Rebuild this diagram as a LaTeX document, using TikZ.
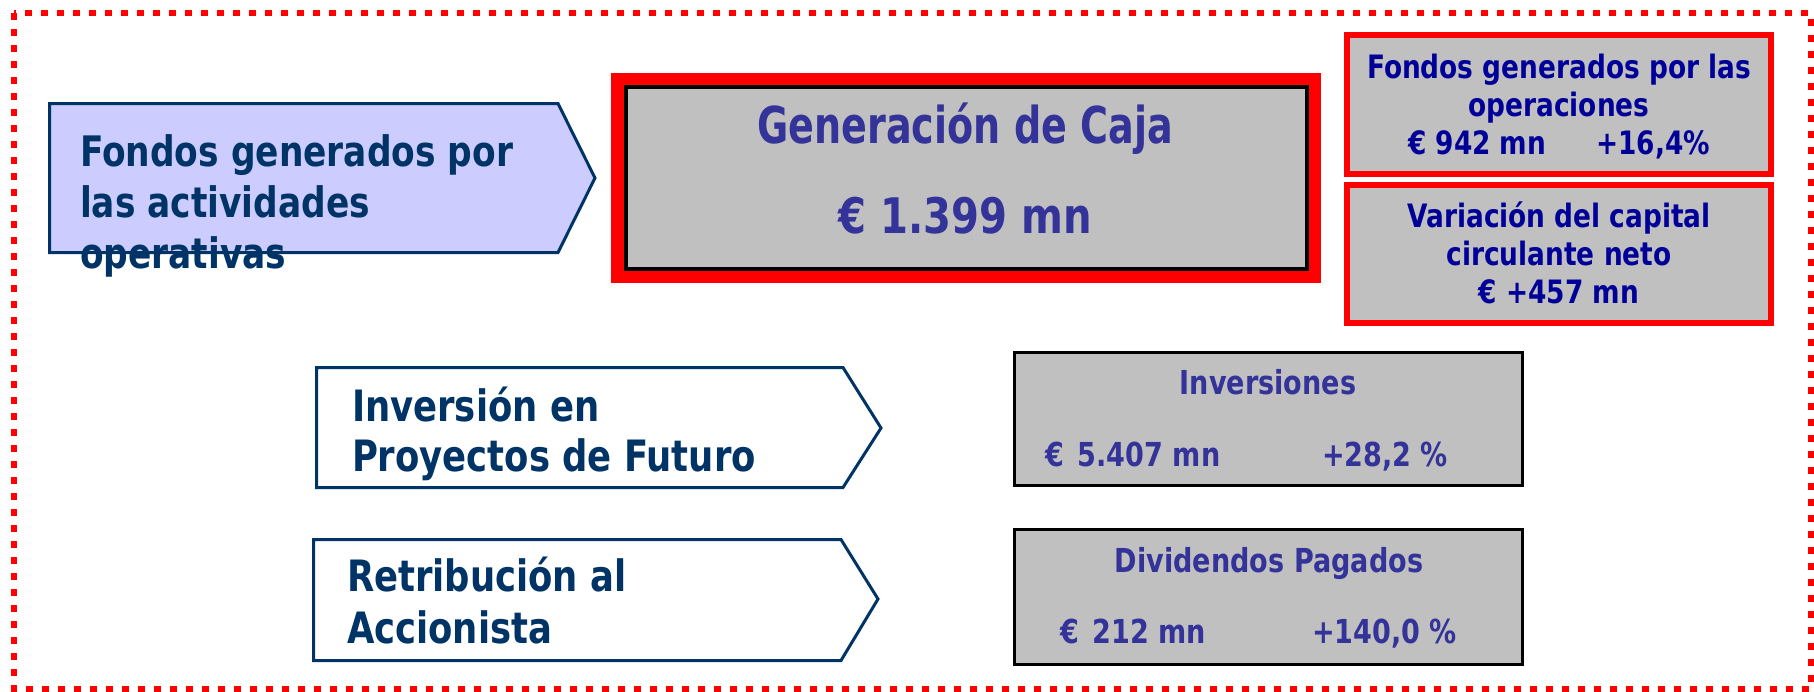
\documentclass[tikz,border=0pt]{standalone}
\usepackage{fontspec}
\newfontfamily\tahfont[FakeStretch=0.82]{DejaVu Sans}
\newfontfamily\tahnarrow[FakeStretch=0.75]{DejaVu Sans}
\usetikzlibrary{positioning}
\definecolor{frameRed}{RGB}{255,0,0}
\definecolor{navyText}{RGB}{0,51,102}
\definecolor{lilac}{RGB}{204,204,255}
\definecolor{boxGrey}{RGB}{192,192,192}
\definecolor{cashBlue}{RGB}{51,51,153}
\definecolor{fundBlue}{RGB}{0,0,153}

\begin{document}
\begin{tikzpicture}[x=0.5pt, y=-0.5pt,
  every node/.style = {inner sep=0pt, outer sep=0pt},
  pointer/.style = {draw=navyText, line width=1.5pt, line join=miter},
  greybox/.style = {fill=boxGrey, draw=black, line width=1.5pt},
  redbox/.style = {fill=boxGrey, draw=frameRed, line width=3pt},
  armtext/.style = {text=navyText, align=left, anchor=base west,
    font=\tahfont\bfseries\fontsize{21}{25.5}\selectfont},
  cashtext/.style = {text=cashBlue, anchor=base,
    font=\tahfont\bfseries\fontsize{24.5}{30}\selectfont},
  fundtext/.style = {text=fundBlue, align=center, anchor=base,
    font=\tahfont\bfseries\fontsize{16.1}{19}\selectfont},
  figtext/.style = {text=cashBlue, anchor=base,
    font=\tahfont\bfseries\fontsize{16.5}{20}\selectfont}]
  \useasboundingbox (0,0) rectangle (1814,691);
  \fill[white] (0,0) rectangle (1814,691);

  % left pointers
  \draw[pointer, fill=lilac] (49.5,103.5) -- (558,103.5) -- (595,178)
    -- (558,252.5) -- (49.5,252.5) -- cycle;
  \draw[pointer, fill=white] (316.5,367.5) -- (843,367.5) -- (881,428)
    -- (843,487.5) -- (316.5,487.5) -- cycle;
  \draw[pointer, fill=white] (313.5,539.5) -- (841,539.5) -- (878,599)
    -- (841,660.5) -- (313.5,660.5) -- cycle;
  \node[armtext] (funds) at (80,268) {Fondos generados por\\las actividades\\operativas};
  \node[armtext, font=\tahfont\bfseries\fontsize{21.6}{25}\selectfont]
    (invest) at (352,471) {Inversión en\\Proyectos de Futuro};
  \node[armtext, font=\tahfont\bfseries\fontsize{21.6}{26}\selectfont]
    (payout) at (347,643) {Retribución al\\Accionista};

  % cash generation
  \fill[frameRed] (611,73) rectangle (1321,283);
  \draw[fill=boxGrey, draw=black, line width=2pt] (626,87) rectangle (1307,269);
  \node[cashtext, font=\tahnarrow\bfseries\fontsize{25.4}{30}\selectfont]
    (cashtitle) at (965,143) {Generación de Caja};
  \node[cashtext] (cashvalue) at (965,233) {€ 1.399 mn};

  % breakdown
  \draw[redbox] (1347,35) rectangle (1771,174);
  \draw[redbox] (1347,185) rectangle (1771,323);
  \node[fundtext] (opfunds) at (1559,154)
    {Fondos generados por las\\operaciones\\€ 942 mn\hspace{25pt}+16,4\%};
  \node[fundtext] (capital) at (1559,303)
    {Variación del capital\\circulante neto\\€ +457 mn};

  % investment and dividends
  \draw[greybox] (1014.5,352.5) rectangle (1522.5,485.5);
  \draw[greybox] (1014.5,529.5) rectangle (1522.5,664.5);
  \node[figtext] (invtitle) at (1268,394) {Inversiones};
  \node[figtext, anchor=base west] (invvalue) at (1045,466) {€\hspace{7pt}5.407 mn};
  \node[figtext, anchor=base west] (invgrowth) at (1322,466) {+28,2 \%};
  \node[figtext] (divtitle) at (1269,572) {Dividendos Pagados};
  \node[figtext, anchor=base west] (divvalue) at (1060,643) {€\hspace{7pt}212 mn};
  \node[figtext, anchor=base west] (divgrowth) at (1312,643) {+140,0 \%};

  % outer frame
  \draw[frameRed, line width=3pt, dash pattern=on 3.5pt off 4.5pt]
    (14,13) rectangle (1811,689);
\end{tikzpicture}
\end{document}
